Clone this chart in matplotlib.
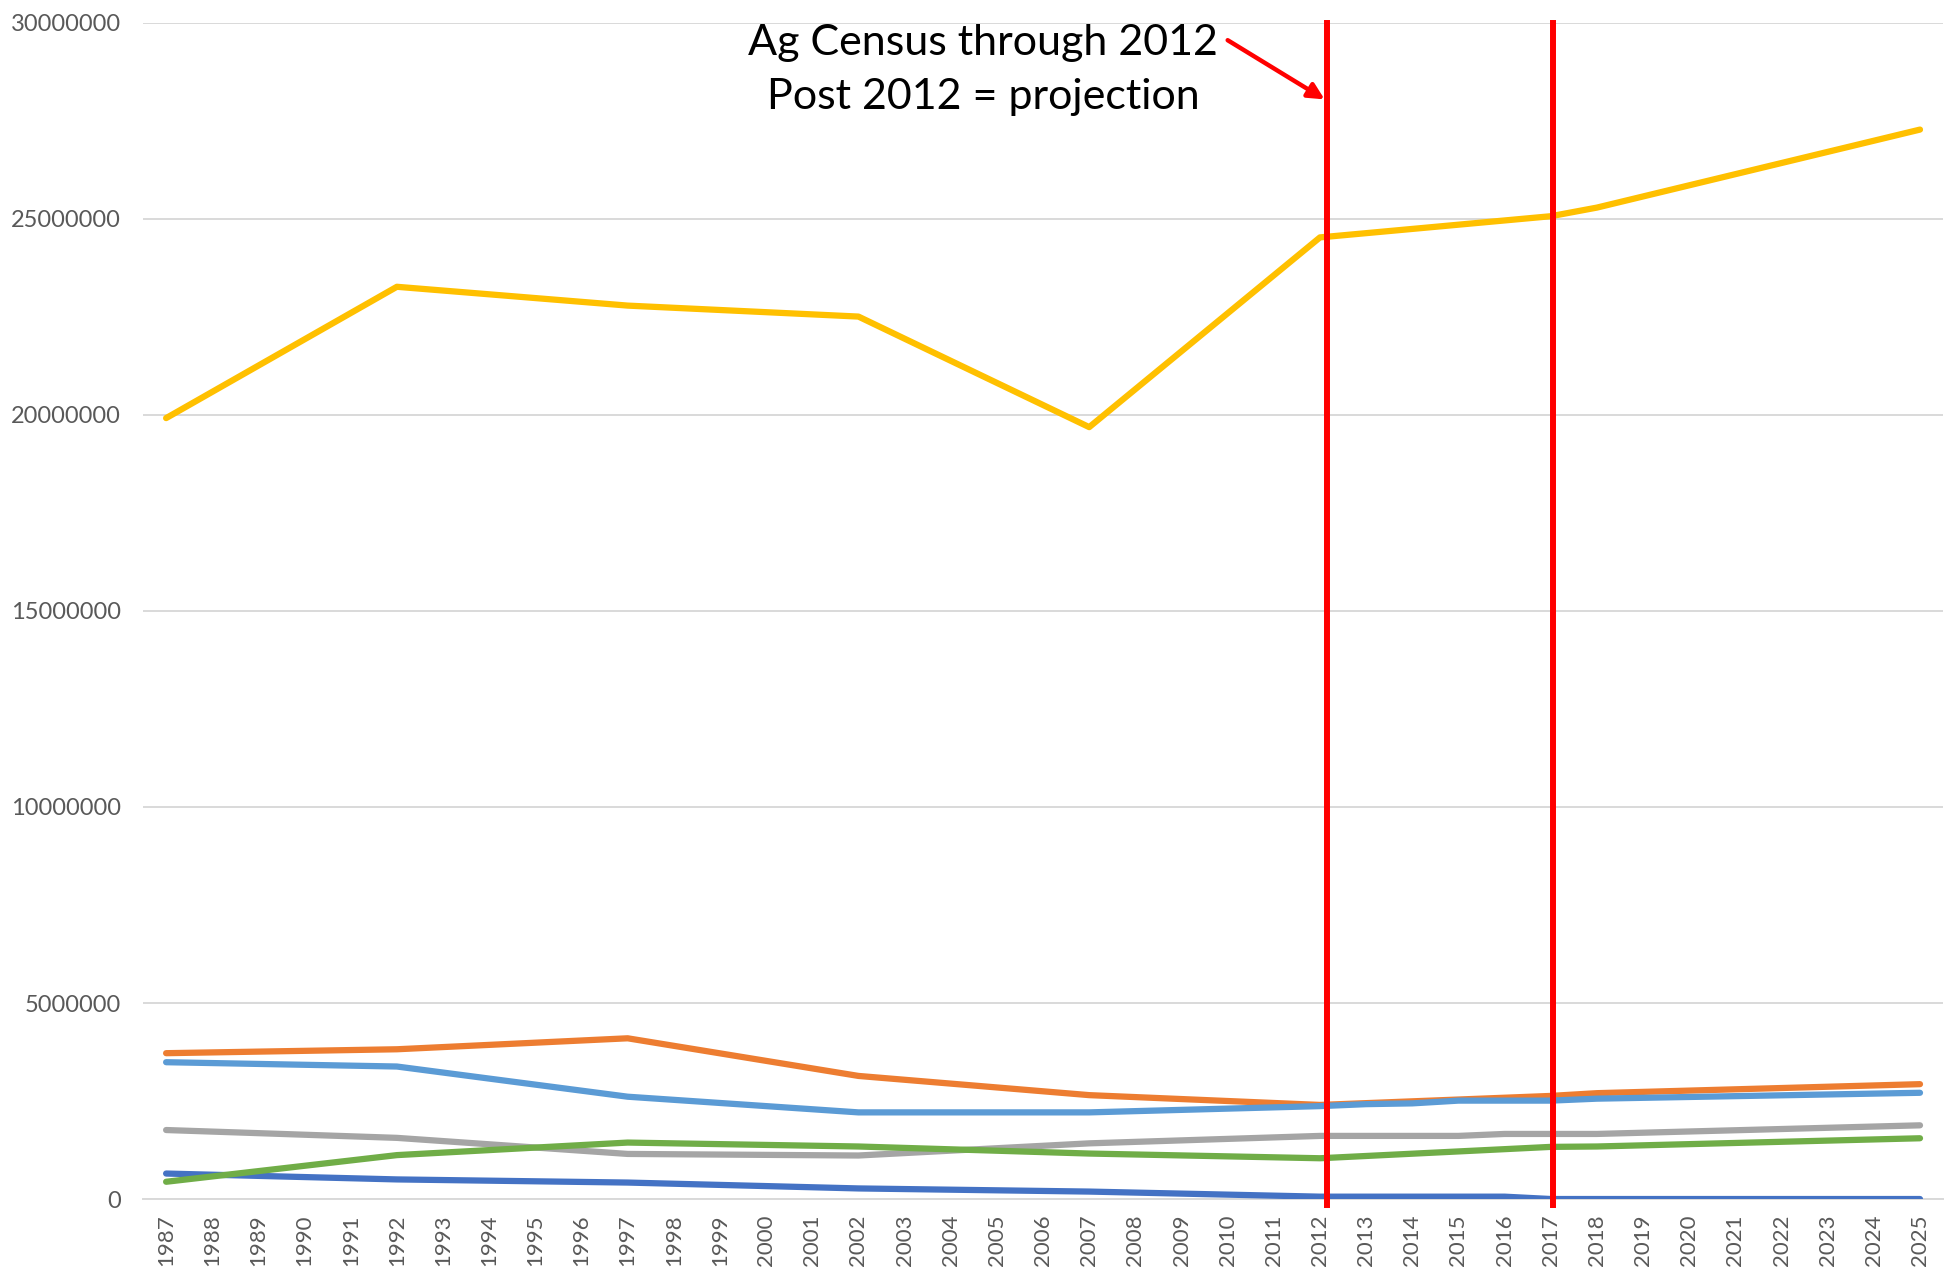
import matplotlib
matplotlib.use("Agg")
import matplotlib.pyplot as plt

# category axis: one tick per year
YEARS = list(range(1987, 2026))

# values (only the years where a line bends)
dark_blue_years = [1987, 1992, 1997, 2002, 2007, 2012, 2016, 2017, 2025]
dark_blue_vals = [650000, 500000, 420000, 270000, 190000, 60000, 60000, 0, 0]

orange_years = [1987, 1992, 1997, 2002, 2007, 2012, 2017, 2018, 2025]
orange_vals = [3720000, 3820000, 4100000, 3140000, 2650000, 2400000, 2630000, 2700000, 2930000]

gray_years = [1987, 1992, 1997, 2002, 2007, 2012, 2015, 2016, 2018, 2025]
gray_vals = [1760000, 1560000, 1150000, 1110000, 1420000, 1610000, 1610000, 1660000, 1660000, 1880000]

yellow_years = [1987, 1992, 1997, 2002, 2007, 2012, 2017, 2018, 2025]
yellow_vals = [19920000, 23270000, 22790000, 22510000, 19690000, 24530000, 25070000, 25290000, 27280000]

light_blue_years = [1987, 1992, 1997, 2002, 2007, 2012, 2013, 2014, 2015, 2017, 2018, 2025]
light_blue_vals = [3490000, 3380000, 2610000, 2210000, 2210000, 2370000, 2420000, 2440000, 2510000, 2510000, 2560000, 2710000]

green_years = [1987, 1992, 1997, 2002, 2007, 2012, 2017, 2018, 2025]
green_vals = [440000, 1120000, 1440000, 1340000, 1160000, 1040000, 1330000, 1340000, 1550000]

MARK_YEARS = [2012, 2017]
NOTE = "Ag Census through 2012\nPost 2012 = projection"

series = [
    (dark_blue_years, dark_blue_vals, "#4472C4"),
    (orange_years, orange_vals, "#ED7D31"),
    (gray_years, gray_vals, "#A5A5A5"),
    (yellow_years, yellow_vals, "#FFC000"),
    (light_blue_years, light_blue_vals, "#5B9BD5"),
    (green_years, green_vals, "#70AD47"),
]

plt.rcParams["font.family"] = ["Lato", "DejaVu Sans"]

fig = plt.figure(figsize=(19.46, 12.68), dpi=100)
ax = fig.add_axes([0.0735, 0.0544, 0.925, 0.9275])

for xs, ys, color in series:
    ax.plot(xs, ys, color=color, lw=4.5, solid_capstyle="round", solid_joinstyle="round", zorder=3)

ax.set_xlim(1986.5, 2025.5)
ax.set_ylim(0, 30000000)
ax.set_yticks(range(0, 30000001, 5000000))
ax.set_yticklabels([str(v) for v in range(0, 30000001, 5000000)])
ax.set_xticks(YEARS)
ax.set_xticklabels([str(y) for y in YEARS], rotation=90)

ax.grid(axis="y", color="#D9D9D9", lw=1.4, zorder=0)
for s in ["top", "right", "left"]:
    ax.spines[s].set_visible(False)
ax.spines["bottom"].set_color("#D9D9D9")
ax.spines["bottom"].set_linewidth(1.4)
ax.tick_params(axis="both", length=0, colors="#595959")
ax.tick_params(axis="y", pad=16, labelsize=17)
ax.tick_params(axis="x", pad=11, labelsize=16)

# the red marker lines are hand-drawn shapes in the original, 2012 one sits a bit right
offsets = [0.15, 0.05]
for yr, off in zip(MARK_YEARS, offsets):
    ax.axvline(yr + off, ymin=-0.005, ymax=1.0, color="#FF0000", lw=4.3, clip_on=False, zorder=4)

ax.annotate("", xy=(MARK_YEARS[0] + 0.1, 28050000), xytext=(2010.0, 29560000),
            arrowprops=dict(arrowstyle="-|>", color="#FF0000", lw=3.2, mutation_scale=24,
                            shrinkA=0, shrinkB=0),
            zorder=5, annotation_clip=False)
ax.text(2004.7, 28800000, NOTE, ha="center", va="center", fontsize=31,
        color="black", linespacing=1.5, zorder=5)

fig.savefig("out.png", dpi=100)
